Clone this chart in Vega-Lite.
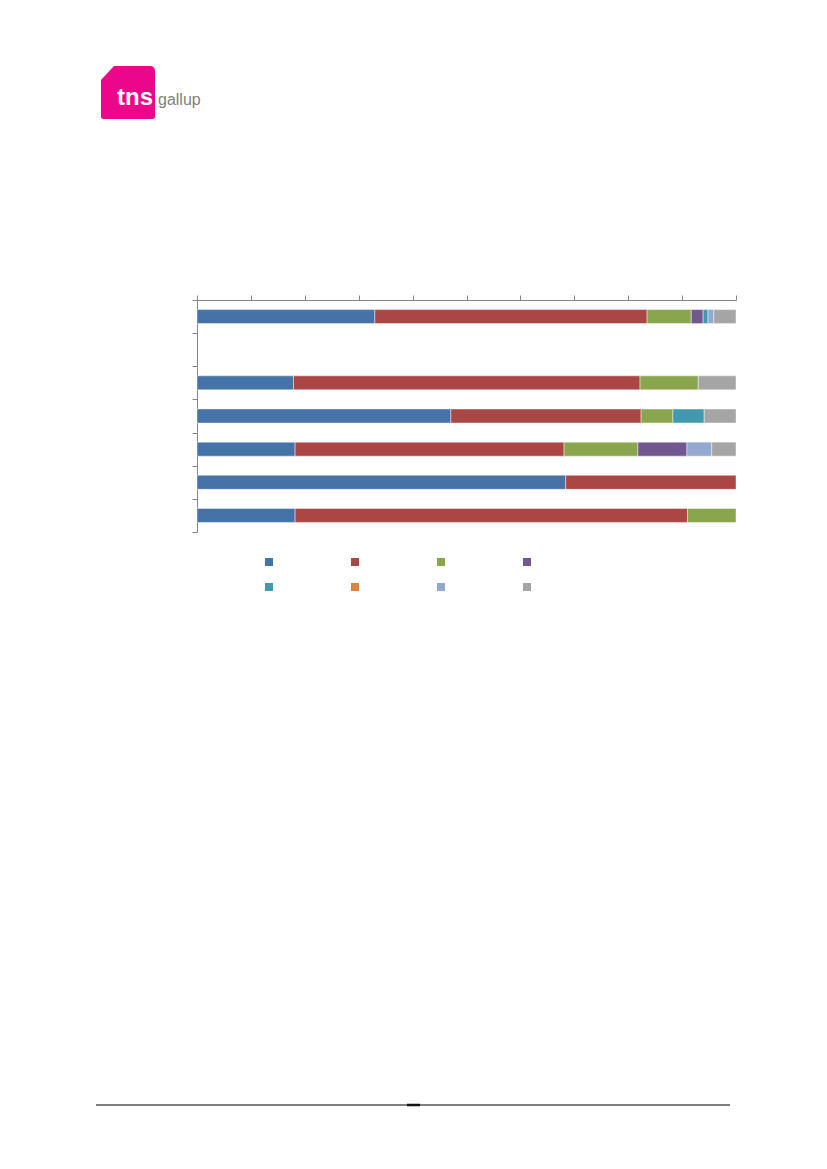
{
  "$schema": "https://vega.github.io/schema/vega-lite/v6.json",
  "padding": {"left": 95, "top": 66, "right": 0, "bottom": 0},
  "background": "white",
  "spacing": 20,
  "columns": 1,
  "align": "none",
  "config": {"view": {"stroke": null}},
  "concat": [
    {
      "width": 64,
      "height": 53,
      "data": {"values": [{"brand": "tns", "sub": "gallup"}]},
      "layer": [
        {
          "mark": {
            "type": "point",
            "filled": true,
            "opacity": 1,
            "color": "#EB068C",
            "size": 2916,
            "shape": "M -0.52 -0.98 L 0.8 -0.98 Q 1 -0.98 1 -0.78 L 1 0.9 Q 1 0.98 0.92 0.98 L -0.92 0.98 Q -1 0.98 -1 0.9 L -1 -0.46 Z"
          },
          "encoding": {}
        },
        {
          "mark": {"type": "text", "font": "Liberation Sans", "fontSize": 24, "fontWeight": "bold", "color": "white", "align": "center", "baseline": "alphabetic", "dx": 7, "dy": 12.5},
          "encoding": {"text": {"field": "brand"}}
        },
        {
          "mark": {"type": "text", "font": "Liberation Sans", "fontSize": 16, "color": "#7f7f7f", "align": "left", "baseline": "alphabetic", "dx": 30, "dy": 12.5},
          "encoding": {"text": {"field": "sub"}}
        }
      ]
    },
    {
      "spacing": 0,
      "hconcat": [
        {
          "width": 1,
          "height": 232,
          "data": {"values": [{"spacer": ""}]},
          "mark": {"type": "text", "opacity": 0},
          "encoding": {"text": {"field": "spacer"}}
        },
        {
          "width": 539,
          "height": 232,
          "data": {
            "values": [
              {"row": "r1", "series": "S1", "value": 33.0},
              {"row": "r1", "series": "S2", "value": 50.5},
              {"row": "r1", "series": "S3", "value": 8.2},
              {"row": "r1", "series": "S4", "value": 2.2},
              {"row": "r1", "series": "S5", "value": 0.9},
              {"row": "r1", "series": "S7", "value": 1.1},
              {"row": "r1", "series": "S8", "value": 4.1},
              {"row": "r3", "series": "S1", "value": 17.9},
              {"row": "r3", "series": "S2", "value": 64.3},
              {"row": "r3", "series": "S3", "value": 10.8},
              {"row": "r3", "series": "S8", "value": 7.0},
              {"row": "r4", "series": "S1", "value": 47.1},
              {"row": "r4", "series": "S2", "value": 35.3},
              {"row": "r4", "series": "S3", "value": 5.9},
              {"row": "r4", "series": "S5", "value": 5.8},
              {"row": "r4", "series": "S8", "value": 5.9},
              {"row": "r5", "series": "S1", "value": 18.2},
              {"row": "r5", "series": "S2", "value": 49.9},
              {"row": "r5", "series": "S3", "value": 13.7},
              {"row": "r5", "series": "S4", "value": 9.1},
              {"row": "r5", "series": "S7", "value": 4.6},
              {"row": "r5", "series": "S8", "value": 4.5},
              {"row": "r6", "series": "S1", "value": 68.4},
              {"row": "r6", "series": "S2", "value": 31.6},
              {"row": "r7", "series": "S1", "value": 18.2},
              {"row": "r7", "series": "S2", "value": 72.8},
              {"row": "r7", "series": "S3", "value": 9.0}
            ]
          },
          "mark": {"type": "bar", "size": 14, "stroke": "white", "strokeWidth": 0.75, "strokeOpacity": 0.6},
          "encoding": {
            "y": {
              "field": "row",
              "type": "nominal",
              "scale": {"domain": ["r1", "r2", "r3", "r4", "r5", "r6", "r7"], "paddingInner": 0, "paddingOuter": 0},
              "axis": {"title": null, "labels": false, "tickBand": "extent", "domainColor": "#868686", "tickColor": "#868686", "tickSize": 5, "domainWidth": 1, "tickWidth": 1, "minExtent": 100, "maxExtent": 100, "grid": false}
            },
            "x": {
              "field": "value",
              "type": "quantitative",
              "stack": "normalize",
              "scale": {"domain": [0, 1], "nice": false},
              "axis": {"orient": "top", "title": null, "labels": false, "values": [0, 0.1, 0.2, 0.3, 0.4, 0.5, 0.6, 0.7, 0.8, 0.9, 1], "domainColor": "#868686", "tickColor": "#868686", "tickSize": 5, "domainWidth": 1, "tickWidth": 1, "grid": false, "minExtent": 161, "maxExtent": 161}
            },
            "color": {
              "field": "series",
              "type": "nominal",
              "scale": {
                "domain": ["S1", "S2", "S3", "S4", "S5", "S6", "S7", "S8"],
                "range": ["#4572A7", "#AA4643", "#89A54E", "#71588F", "#4198AF", "#DB843D", "#93A9CF", "#A5A5A5"]
              },
              "legend": {
                "title": null,
                "orient": "none",
                "legendX": 169,
                "legendY": 492,
                "direction": "horizontal",
                "columns": 4,
                "symbolType": "square",
                "symbolSize": 64,
                "symbolStrokeWidth": 0,
                "symbolOpacity": 1,
                "labelExpr": "''",
                "labelOffset": 0,
                "labelFontSize": 8,
                "columnPadding": 78,
                "rowPadding": 17,
                "padding": 0
              }
            },
            "order": {"field": "series"}
          }
        }
      ]
    },
    {
      "width": 634,
      "height": 552,
      "data": {"values": [{"part": "line", "start": 0, "end": 634}, {"part": "mark", "start": 311, "end": 324}]},
      "layer": [
        {
          "transform": [{"filter": "datum.part === 'line'"}],
          "mark": {"type": "rule", "color": "#555555", "strokeWidth": 1.5},
          "encoding": {
            "x": {"field": "start", "type": "quantitative", "scale": {"domain": [0, 634], "nice": false}, "axis": null},
            "x2": {"field": "end"},
            "y": {"datum": 0, "type": "quantitative", "scale": {"domain": [0, 1]}, "axis": null}
          }
        },
        {
          "transform": [{"filter": "datum.part === 'mark'"}],
          "mark": {"type": "rule", "color": "#111111", "strokeWidth": 2.5},
          "encoding": {
            "x": {"field": "start", "type": "quantitative", "scale": {"domain": [0, 634], "nice": false}, "axis": null},
            "x2": {"field": "end"},
            "y": {"datum": 0, "type": "quantitative", "scale": {"domain": [0, 1]}, "axis": null}
          }
        }
      ]
    }
  ]
}
